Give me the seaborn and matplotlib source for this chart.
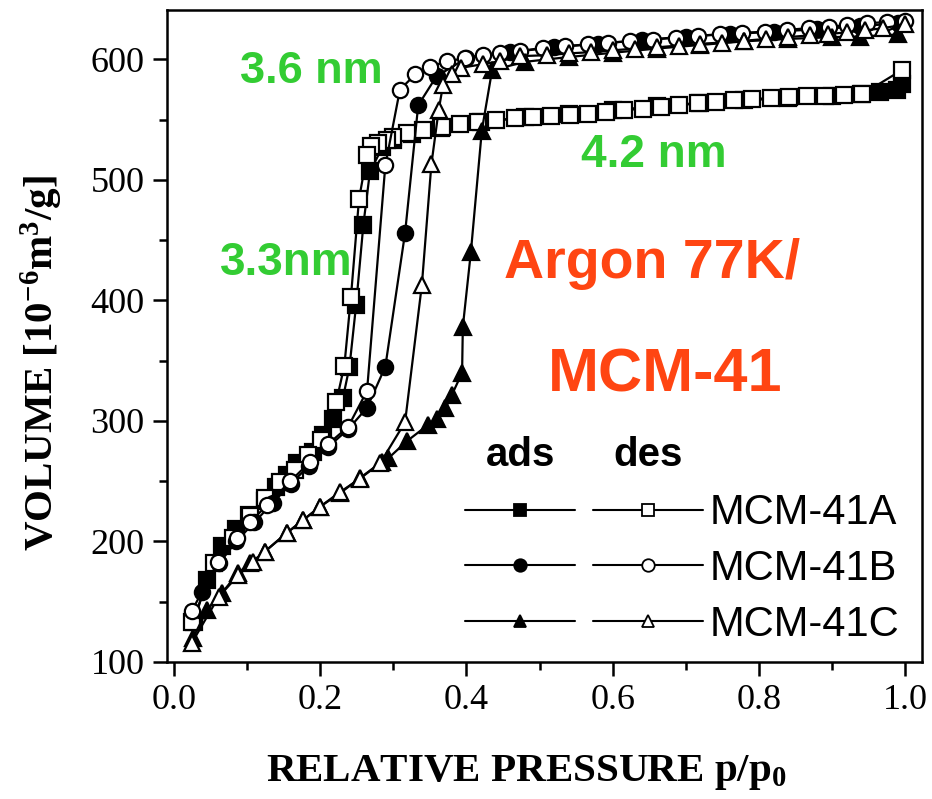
import matplotlib
matplotlib.use("Agg")
import matplotlib.pyplot as plt
from matplotlib.lines import Line2D
from matplotlib.ticker import MultipleLocator, FormatStrFormatter
import seaborn as sns
import pandas as pd

# ---- isotherm data: relative pressure p/p0 and adsorbed volume [1e-6 m3/g] ----
a_ads_p = [0.027, 0.045, 0.065, 0.085, 0.102, 0.124, 0.140, 0.154, 0.168, 0.190, 0.204,
           0.218, 0.231, 0.240, 0.249, 0.259, 0.268, 0.285, 0.300, 0.325, 0.365, 0.420,
           0.480, 0.540, 0.600, 0.660, 0.720, 0.780, 0.840, 0.900, 0.940, 0.966, 0.989, 0.996]
a_ads_v = [133, 168, 196, 210, 222, 234, 245, 255, 265, 274, 288,
           302, 319, 345, 396, 463, 507, 527, 533, 538, 543, 548,
           552, 555, 558, 561, 564, 566, 568, 570, 571.5, 573, 575, 580]

a_des_p = [0.995, 0.941, 0.916, 0.891, 0.866, 0.841, 0.816, 0.791, 0.766, 0.741, 0.716,
           0.691, 0.666, 0.641, 0.616, 0.591, 0.566, 0.541, 0.516, 0.491, 0.466, 0.441,
           0.416, 0.391, 0.366, 0.341, 0.318, 0.300, 0.291, 0.279, 0.270, 0.264, 0.253,
           0.242, 0.233, 0.222, 0.201, 0.183, 0.165, 0.145, 0.124, 0.104, 0.081, 0.055, 0.025]
a_des_v = [591, 571, 570.5, 570, 569.5, 569, 568, 567, 566, 565, 563.5,
           562, 560.5, 559, 558, 556.5, 555, 554, 553, 552, 551, 549.5,
           548, 546.5, 544, 541.5, 539, 536, 533, 531, 528, 521, 484,
           403, 346, 316, 284, 272, 259, 249, 236, 221, 203, 182, 133]

b_ads_p = [0.038, 0.062, 0.085, 0.110, 0.135, 0.160, 0.185, 0.210, 0.238, 0.264, 0.289,
           0.316, 0.334, 0.359, 0.400, 0.460, 0.520, 0.580, 0.640, 0.700, 0.760, 0.820,
           0.880, 0.938, 0.990]
b_ads_v = [158, 182, 200, 216, 232, 248, 263, 278, 293, 311, 345,
           456, 562, 586, 601, 606, 610, 613, 616, 619, 621, 623,
           625, 627.5, 630]

b_des_p = [1.000, 0.975, 0.948, 0.920, 0.896, 0.869, 0.838, 0.808, 0.777, 0.747, 0.716,
           0.686, 0.655, 0.624, 0.593, 0.566, 0.535, 0.504, 0.473, 0.446, 0.422, 0.398,
           0.374, 0.350, 0.330, 0.309, 0.289, 0.264, 0.238, 0.211, 0.186, 0.159, 0.127,
           0.104, 0.086, 0.060, 0.024]
b_des_v = [632, 631, 630, 628.5, 627, 626, 624.5, 623, 622, 621, 619.5,
           618, 616.5, 615, 614, 612.5, 611, 609.5, 607, 605.5, 604, 601,
           598.5, 594, 587.5, 575, 512, 325, 295, 281, 266, 250, 230,
           216, 203, 183, 142]

c_ads_p = [0.026, 0.045, 0.065, 0.088, 0.104, 0.124, 0.154, 0.177, 0.200, 0.227, 0.255,
           0.284, 0.293, 0.318, 0.348, 0.359, 0.371, 0.380, 0.394, 0.395, 0.406, 0.421,
           0.435, 0.480, 0.540, 0.600, 0.660, 0.720, 0.780, 0.840, 0.900, 0.938, 0.990]
c_ads_v = [120, 143, 157, 174, 182, 191.5, 207, 218, 229, 240, 253,
           266, 269, 283, 297, 302, 310.5, 321.6, 340, 378, 440, 541,
           591, 598, 602, 605.5, 609, 612, 615, 617, 618.5, 619, 620.7]

c_des_p = [1.000, 0.970, 0.945, 0.920, 0.895, 0.870, 0.840, 0.810, 0.780, 0.750, 0.720,
           0.690, 0.660, 0.630, 0.600, 0.570, 0.540, 0.510, 0.473, 0.446, 0.422, 0.392,
           0.380, 0.368, 0.362, 0.352, 0.339, 0.316, 0.282, 0.254, 0.227, 0.200, 0.177,
           0.154, 0.124, 0.108, 0.088, 0.061, 0.024]
c_des_v = [629, 626, 624, 622.5, 621, 620, 618.5, 617, 615.5, 614, 613,
           611.5, 610, 609, 607.5, 606, 605, 603.5, 602.7, 598.6, 596, 593,
           588, 579, 558, 513, 413, 299, 265, 252, 241, 229, 218,
           207, 191.5, 183, 172, 154, 115.5]

samples = ["MCM-41A", "MCM-41B", "MCM-41C"]
branches = ["ads", "des"]
x_ticks = [0.0, 0.2, 0.4, 0.6, 0.8, 1.0]
y_ticks = [100, 200, 300, 400, 500, 600]

series = [
    (a_ads_p, a_ads_v, "s", "black"), (a_des_p, a_des_v, "s", "white"),
    (b_ads_p, b_ads_v, "o", "black"), (b_des_p, b_des_v, "o", "white"),
    (c_ads_p, c_ads_v, "^", "black"), (c_des_p, c_des_v, "^", "white"),
]

# ---- style ----
sns.set_theme(style="ticks")
plt.rcParams["font.family"] = ["Liberation Serif", "DejaVu Serif"]
plt.rcParams["text.color"] = "black"
plt.rcParams["axes.labelcolor"] = "black"
plt.rcParams["xtick.color"] = "black"
plt.rcParams["ytick.color"] = "black"
plt.rcParams["mathtext.fontset"] = "custom"
plt.rcParams["mathtext.rm"] = "Liberation Serif:bold"
plt.rcParams["mathtext.it"] = "Liberation Serif:bold"
plt.rcParams["mathtext.bf"] = "Liberation Serif:bold"

GREEN = "#33cc33"
RED = "#ff4512"
SANS = ["Liberation Sans", "DejaVu Sans"]

fig = plt.figure(figsize=(9.32, 7.99), dpi=100)
ax = fig.add_axes([166.7 / 932, 1 - 662 / 799, 755.3 / 932, 652 / 799])

for p, v, mk, face in series:
    df = pd.DataFrame({"p": p, "v": v})
    sns.lineplot(data=df, x="p", y="v", ax=ax, sort=False, estimator=None,
                 color="black", linewidth=1.6, marker=mk, markersize=11,
                 markerfacecolor=face, markeredgecolor="black", markeredgewidth=1.6)

ax.set_xlim(-0.010, 1.023)
ax.set_ylim(100, 641)
ax.set_xticks(x_ticks)
ax.set_yticks(y_ticks)
ax.xaxis.set_major_formatter(FormatStrFormatter("%.1f"))
ax.xaxis.set_minor_locator(MultipleLocator(0.1))
ax.yaxis.set_minor_locator(MultipleLocator(50))
ax.tick_params(which="major", direction="out", length=10, width=1.8,
               labelsize=26, pad=6, color="black", labelcolor="black")
ax.tick_params(which="minor", direction="out", length=6, width=1.8, color="black")
for s in ax.spines.values():
    s.set_linewidth(1.8)
    s.set_color("black")
    s.set_visible(True)

ax.set_xlabel("RELATIVE PRESSURE p/p$_0$", fontsize=29.5, fontweight="bold", color="black")
ax.set_ylabel("VOLUME [10$^{-6}$m$^{3}$/g]", fontsize=29.5, fontweight="bold", color="black")
ax.xaxis.set_label_coords(0.476, -0.139)
ax.yaxis.set_label_coords(-0.135, 0.459)

# ---- annotations ----
ax.text(0.191, 0.905, "3.6 nm", transform=ax.transAxes, color=GREEN, fontsize=32.5,
        fontweight="bold", family=SANS, ha="center", va="center")
ax.text(0.159, 0.612, "3.3nm", transform=ax.transAxes, color=GREEN, fontsize=33,
        fontweight="bold", family=SANS, ha="center", va="center")
ax.text(0.645, 0.778, "4.2 nm", transform=ax.transAxes, color=GREEN, fontsize=33,
        fontweight="bold", family=SANS, ha="center", va="center")
ax.text(0.643, (662 - 278) / 652, "Argon 77K/", transform=ax.transAxes, color=RED,
        fontsize=40, fontweight="bold", family=SANS, ha="center", va="baseline")
ax.text(0.660, (662 - 392) / 652, "MCM-41", transform=ax.transAxes, color=RED,
        fontsize=44, fontweight="bold", family=SANS, ha="center", va="baseline")

# ---- legend: adsorption column, desorption column ----
ax.text(0.469, 0.3175, branches[0], transform=ax.transAxes, fontsize=29,
        fontweight="bold", family=SANS, ha="center", va="center", color="black")
ax.text(0.637, 0.3175, branches[1], transform=ax.transAxes, fontsize=29,
        fontweight="bold", family=SANS, ha="center", va="center", color="black")

handles = []
labels = []
for face in ["black", "white"]:
    for mk, name in zip(["s", "o", "^"], samples):
        handles.append(Line2D([], [], color="black", linewidth=1.5, marker=mk,
                              markersize=9, markerfacecolor=face,
                              markeredgecolor="black", markeredgewidth=1.3))
        labels.append("" if face == "black" else name)
leg = ax.legend(handles, labels, ncol=2, loc="center left",
                bbox_to_anchor=((465 - 166.7) / 755.3, (662 - 569) / 652),
                frameon=False, borderpad=0, borderaxespad=0, handlelength=2.64,
                handletextpad=0.16, columnspacing=0.26, labelspacing=0.38,
                prop={"family": SANS, "size": 30})
for t in leg.get_texts():
    t.set_color("black")

fig.savefig("out.png", dpi=100)
